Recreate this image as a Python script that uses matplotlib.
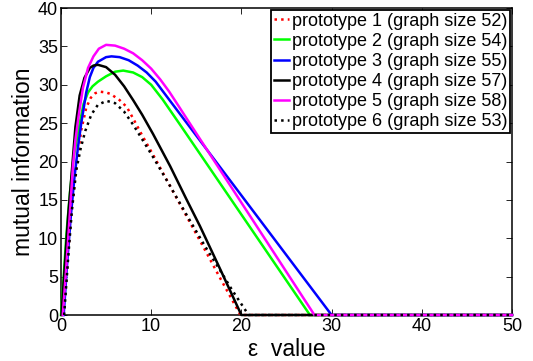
import matplotlib
matplotlib.use("Agg")
import matplotlib.pyplot as plt

plt.rcParams['font.family'] = ['Liberation Sans', 'DejaVu Sans']

# prototype 1 (red dotted)
p1_x = [0.3, 0.8, 1.2, 1.7, 2.25, 2.8, 3.3, 3.8, 4.3, 5.0, 5.5, 6.5, 7.3, 8.14, 9.0, 10.2, 12.0, 14.0, 16.0, 17.6, 19.9, 50]
p1_y = [0, 8, 14, 19.3, 24.1, 27.0, 28.3, 28.9, 29.1, 29.0, 28.8, 28.0, 27.1, 25.3, 23.4, 20.9, 17.0, 12.7, 8.4, 4.9, 0, 0]

# prototype 2 (green)
p2_x = [0, 0.3, 0.6, 1.0, 1.4, 2.0, 2.5, 3.0, 3.5, 4.1, 5.0, 6.0, 6.9, 8.0, 9.0, 10.0, 11.26, 13.2, 27.6, 50]
p2_y = [0, 5, 10.5, 16, 20.5, 24.5, 27.5, 29.0, 29.8, 30.4, 31.1, 31.7, 31.85, 31.6, 31.0, 30.0, 28.1, 24.8, 0, 0]

# prototype 3 (blue)
p3_x = [0.3, 0.7, 1.1, 1.5, 1.9, 2.25, 2.8, 3.2, 3.6, 4.1, 5.0, 5.6, 6.5, 7.5, 8.5, 9.5, 10.5, 11.2, 13.7, 30.0, 50]
p3_y = [0, 7, 13, 18, 22, 25, 29.0, 31.0, 32.2, 33.0, 33.6, 33.7, 33.6, 33.2, 32.5, 31.6, 30.4, 29.3, 25.4, 0, 0]

# prototype 4 (black)
p4_x = [0.05, 0.4, 0.8, 1.14, 1.6, 2.07, 2.6, 3.2, 3.6, 4.1, 5.0, 6.0, 7.0, 8.0, 9.0, 10.2, 12.1, 13.9, 15.4, 17.6, 20.0, 50]
p4_y = [0, 6, 13, 17.8, 24.5, 28.6, 30.9, 32.2, 32.5, 32.6, 32.3, 31.3, 29.8, 28.0, 26.1, 23.6, 19.4, 15.1, 11.6, 6.1, 0, 0]

# prototype 5 (magenta)
p5_x = [0.2, 0.6, 1.0, 1.33, 1.6, 1.96, 2.44, 3.0, 3.6, 4.2, 5.0, 6.0, 7.0, 8.0, 9.0, 10.0, 11.0, 12.0, 13.0, 14.1, 28.1, 50]
p5_y = [0, 6.5, 13.5, 19.5, 22.8, 26.0, 29.6, 32.2, 33.7, 34.7, 35.2, 35.1, 34.7, 34.1, 33.2, 32.1, 30.7, 29.1, 27.3, 25.3, 0, 0]

# prototype 6 (black dotted)
p6_x = [0.35, 0.8, 1.2, 1.7, 2.2, 2.7, 3.36, 4.1, 5.06, 6.0, 7.0, 8.0, 9.0, 10.2, 12.0, 14.0, 16.0, 17.6, 19.0, 20.8, 50]
p6_y = [0, 7.5, 13.5, 18.9, 21.8, 24.0, 26.1, 27.4, 27.9, 27.6, 26.5, 24.8, 22.9, 20.6, 17.0, 12.9, 8.9, 5.9, 3.2, 0, 0]

labels = ['prototype 1 (graph size 52)', 'prototype 2 (graph size 54)',
          'prototype 3 (graph size 55)', 'prototype 4 (graph size 57)',
          'prototype 5 (graph size 58)', 'prototype 6 (graph size 53)']

fig = plt.figure(figsize=(5.33, 3.61), dpi=100)
ax = fig.add_axes([0.1144, 0.1274, 0.8462, 0.8504])

lw = 1.8
ax.plot(p1_x, p1_y, ':', color='#ff0000', lw=lw, label=labels[0], clip_on=False, zorder=3)
ax.plot(p2_x, p2_y, '-', color='#00ff00', lw=lw, label=labels[1], clip_on=False, zorder=3)
ax.plot(p3_x, p3_y, '-', color='#0000ff', lw=lw, label=labels[2], clip_on=False, zorder=3)
ax.plot(p4_x, p4_y, '-', color='black', lw=lw, label=labels[3], clip_on=False, zorder=3)
ax.plot(p5_x, p5_y, '-', color='#ff00ff', lw=lw, label=labels[4], clip_on=False, zorder=3)
ax.plot(p6_x, p6_y, ':', color='black', lw=lw, label=labels[5], clip_on=False, zorder=3)

ax.set_xlim(0, 50)
ax.set_ylim(0, 40)
ax.set_xticks(range(0, 51, 10))
ax.set_yticks(range(0, 41, 5))
ax.tick_params(direction='in', length=4, width=0.6, top=True, right=True,
               labelsize=13, pad=2)
for s in ax.spines.values():
    s.set_linewidth(1.1)

ax.set_xlabel('ε  value', fontsize=16.5, labelpad=2)
ax.set_ylabel('mutual information', fontsize=16.5, labelpad=2)

leg = ax.legend(loc='upper right', bbox_to_anchor=(0.9956, 0.9935), borderaxespad=0,
                fontsize=13, handlelength=0.85, handletextpad=0.15, labelspacing=0.17,
                borderpad=0.15, fancybox=False, framealpha=1, edgecolor='black')
leg.get_frame().set_linewidth(1.3)

fig.savefig('out.png', dpi=100)
